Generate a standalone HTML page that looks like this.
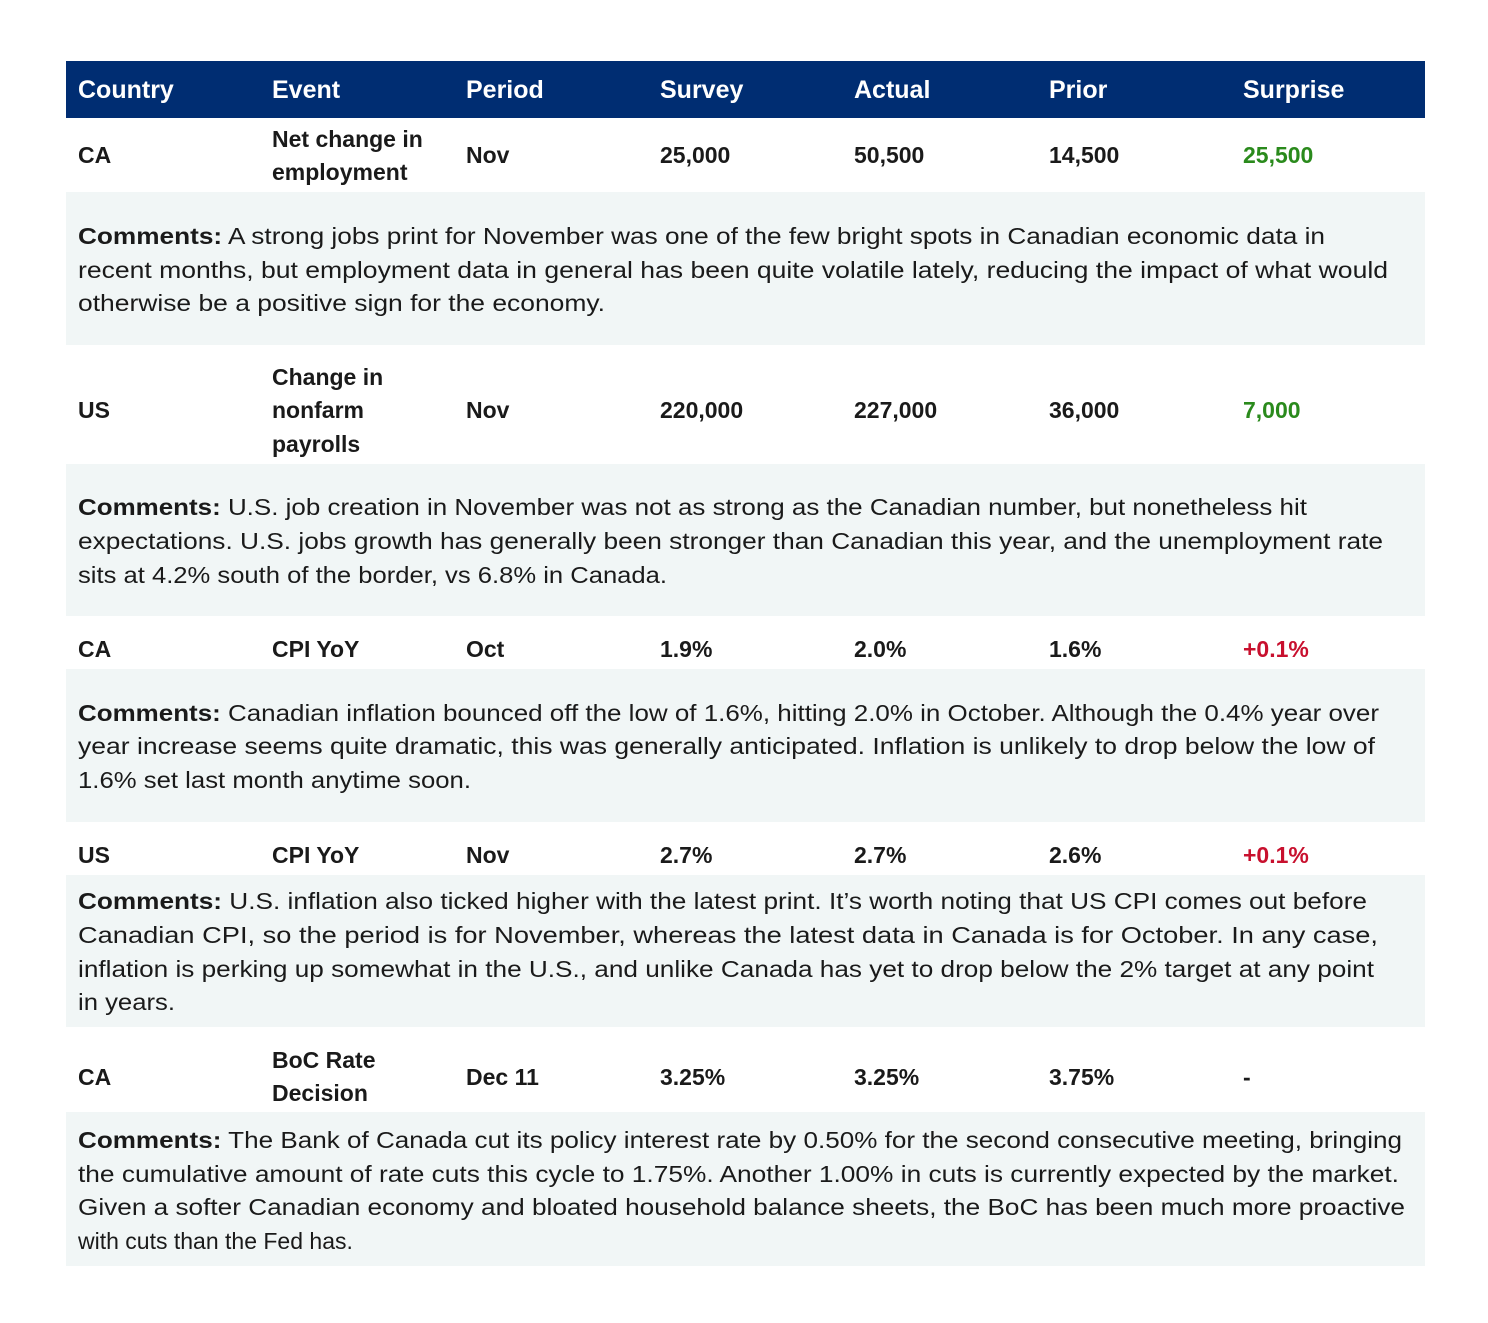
<!DOCTYPE html>
<html><head><meta charset="utf-8"><style>
html,body{margin:0;padding:0;background:#fff;}
svg{display:block;}
text{font-family:"Liberation Sans",sans-serif;font-size:23px;fill:#1a1a1a;}
.h{fill:#fff;font-size:25px;font-weight:bold;}
.d{font-weight:bold;font-size:23px;}
.g{fill:#2a8a1c;}
.r{fill:#c8102e;}
.b{font-weight:bold;}
</style></head><body>
<svg width="1488" height="1323" viewBox="0 0 1488 1323" xmlns="http://www.w3.org/2000/svg">
<rect x="66" y="61" width="1359" height="57" fill="#002d72"/>
<rect x="66" y="192" width="1359" height="153" fill="#f1f6f6"/>
<rect x="66" y="464" width="1359" height="152" fill="#f1f6f6"/>
<rect x="66" y="669" width="1359" height="153" fill="#f1f6f6"/>
<rect x="66" y="875" width="1359" height="152" fill="#f1f6f6"/>
<rect x="66" y="1112" width="1359" height="154" fill="#f1f6f6"/>

<text class="h" x="78" y="98">Country</text>
<text class="h" x="272" y="98">Event</text>
<text class="h" x="466" y="98">Period</text>
<text class="h" x="660" y="98">Survey</text>
<text class="h" x="854" y="98">Actual</text>
<text class="h" x="1049" y="98">Prior</text>
<text class="h" x="1243" y="98">Surprise</text>

<text class="d" x="78" y="163">CA</text>
<text class="d" x="272" y="147">Net change in</text>
<text class="d" x="272" y="180">employment</text>
<text class="d" x="466" y="163">Nov</text>
<text class="d" x="660" y="163">25,000</text>
<text class="d" x="854" y="163">50,500</text>
<text class="d" x="1049" y="163">14,500</text>
<text class="d g" x="1243" y="163">25,500</text>

<text x="78" y="244" textLength="1247" lengthAdjust="spacingAndGlyphs"><tspan class="b">Comments:</tspan> A strong jobs print for November was one of the few bright spots in Canadian economic data in</text>
<text x="78" y="278" textLength="1310" lengthAdjust="spacingAndGlyphs">recent months, but employment data in general has been quite volatile lately, reducing the impact of what would</text>
<text x="78" y="311" textLength="527" lengthAdjust="spacingAndGlyphs">otherwise be a positive sign for the economy.</text>

<text class="d" x="78" y="418">US</text>
<text class="d" x="272" y="385">Change in</text>
<text class="d" x="272" y="418">nonfarm</text>
<text class="d" x="272" y="452">payrolls</text>
<text class="d" x="466" y="418">Nov</text>
<text class="d" x="660" y="418">220,000</text>
<text class="d" x="854" y="418">227,000</text>
<text class="d" x="1049" y="418">36,000</text>
<text class="d g" x="1243" y="418">7,000</text>

<text x="78" y="515" textLength="1229" lengthAdjust="spacingAndGlyphs"><tspan class="b">Comments:</tspan> U.S. job creation in November was not as strong as the Canadian number, but nonetheless hit</text>
<text x="78" y="549" textLength="1305" lengthAdjust="spacingAndGlyphs">expectations. U.S. jobs growth has generally been stronger than Canadian this year, and the unemployment rate</text>
<text x="78" y="583" textLength="589" lengthAdjust="spacingAndGlyphs">sits at 4.2% south of the border, vs 6.8% in Canada.</text>

<text class="d" x="78" y="657">CA</text>
<text class="d" x="272" y="657">CPI YoY</text>
<text class="d" x="466" y="657">Oct</text>
<text class="d" x="660" y="657">1.9%</text>
<text class="d" x="854" y="657">2.0%</text>
<text class="d" x="1049" y="657">1.6%</text>
<text class="d r" x="1243" y="657">+0.1%</text>

<text x="78" y="721" textLength="1301" lengthAdjust="spacingAndGlyphs"><tspan class="b">Comments:</tspan> Canadian inflation bounced off the low of 1.6%, hitting 2.0% in October. Although the 0.4% year over</text>
<text x="78" y="754" textLength="1297" lengthAdjust="spacingAndGlyphs">year increase seems quite dramatic, this was generally anticipated. Inflation is unlikely to drop below the low of</text>
<text x="78" y="788" textLength="393" lengthAdjust="spacingAndGlyphs">1.6% set last month anytime soon.</text>

<text class="d" x="78" y="863">US</text>
<text class="d" x="272" y="863">CPI YoY</text>
<text class="d" x="466" y="863">Nov</text>
<text class="d" x="660" y="863">2.7%</text>
<text class="d" x="854" y="863">2.7%</text>
<text class="d" x="1049" y="863">2.6%</text>
<text class="d r" x="1243" y="863">+0.1%</text>

<text x="78" y="909" textLength="1289" lengthAdjust="spacingAndGlyphs"><tspan class="b">Comments:</tspan> U.S. inflation also ticked higher with the latest print. It’s worth noting that US CPI comes out before</text>
<text x="78" y="943" textLength="1300" lengthAdjust="spacingAndGlyphs">Canadian CPI, so the period is for November, whereas the latest data in Canada is for October. In any case,</text>
<text x="78" y="977" textLength="1296" lengthAdjust="spacingAndGlyphs">inflation is perking up somewhat in the U.S., and unlike Canada has yet to drop below the 2% target at any point</text>
<text x="78" y="1010" textLength="97" lengthAdjust="spacingAndGlyphs">in years.</text>

<text class="d" x="78" y="1085">CA</text>
<text class="d" x="272" y="1068">BoC Rate</text>
<text class="d" x="272" y="1101">Decision</text>
<text class="d" x="466" y="1085">Dec 11</text>
<text class="d" x="660" y="1085">3.25%</text>
<text class="d" x="854" y="1085">3.25%</text>
<text class="d" x="1049" y="1085">3.75%</text>
<text class="d" x="1243" y="1085">-</text>

<text x="78" y="1148" textLength="1324" lengthAdjust="spacingAndGlyphs"><tspan class="b">Comments:</tspan> The Bank of Canada cut its policy interest rate by 0.50% for the second consecutive meeting, bringing</text>
<text x="78" y="1182" textLength="1321" lengthAdjust="spacingAndGlyphs">the cumulative amount of rate cuts this cycle to 1.75%. Another 1.00% in cuts is currently expected by the market.</text>
<text x="78" y="1215" textLength="1327" lengthAdjust="spacingAndGlyphs">Given a softer Canadian economy and bloated household balance sheets, the BoC has been much more proactive</text>
<text x="78" y="1249">with cuts than the Fed has.</text>
</svg>
</body></html>
